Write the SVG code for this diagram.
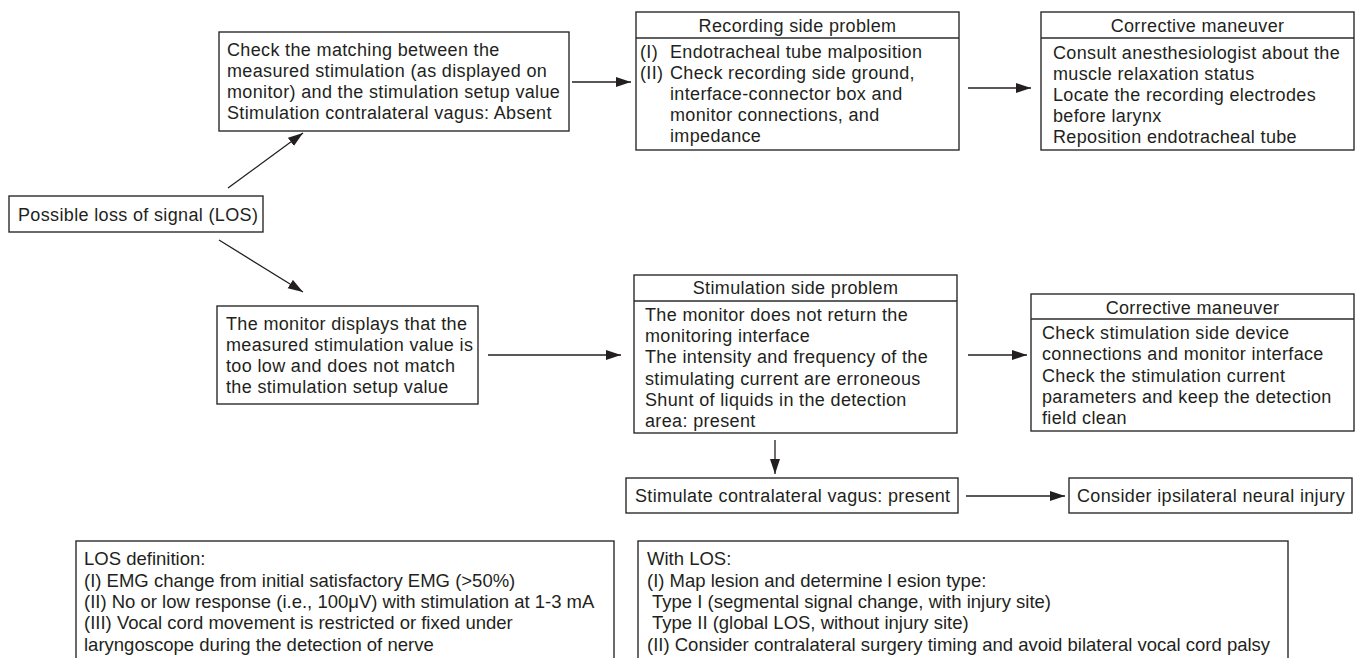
<svg xmlns="http://www.w3.org/2000/svg" width="1357" height="658" viewBox="0 0 1357 658">
<style>
.box{fill:#fff;stroke:#2b2b2b;stroke-width:1.4}
.div{stroke:#2b2b2b;stroke-width:1.4}
.t{font-family:"Liberation Sans",Arial,sans-serif;font-size:18px;letter-spacing:0.35px;fill:#231f20}
.h{text-anchor:middle}
.b{font-family:"Liberation Sans",Arial,sans-serif;font-size:18.5px;fill:#231f20}
.c{stroke:#231f20;stroke-width:1.3;fill:none;marker-end:url(#ah)}
</style>
<defs>
<marker id="ah" markerUnits="userSpaceOnUse" markerWidth="16" markerHeight="11" refX="15" refY="5" orient="auto">
<path d="M0,0 L15,5 L0,10 z" fill="#231f20"/>
</marker>
</defs>
<rect width="1357" height="658" fill="#fff"/>
<g id="connectors">
<line class="c" x1="228" y1="188" x2="303" y2="133"/>
<line class="c" x1="219" y1="240" x2="303" y2="292"/>
<line class="c" x1="572" y1="82" x2="631" y2="82"/>
<line class="c" x1="968" y1="88" x2="1031" y2="88"/>
<line class="c" x1="488" y1="355" x2="621" y2="355"/>
<line class="c" x1="968" y1="355" x2="1027" y2="355"/>
<line class="c" x1="775" y1="440" x2="775" y2="474"/>
<line class="c" x1="966" y1="496" x2="1065" y2="496"/>
</g>
<g id="los">
<rect class="box" x="9" y="196" width="254" height="36"/>
<text class="t" x="18" y="221">Possible loss of signal (LOS)</text>
</g>
<g id="check">
<rect class="box" x="219" y="32" width="350" height="99"/>
<text class="t" x="227" y="56">Check the matching between the</text>
<text class="t" x="227" y="77">measured stimulation (as displayed on</text>
<text class="t" x="227" y="98">monitor) and the stimulation setup value</text>
<text class="t" x="227" y="119">Stimulation contralateral vagus: Absent</text>
</g>
<g id="monitor">
<rect class="box" x="217" y="306" width="261" height="98"/>
<text class="t" x="226" y="330">The monitor displays that the</text>
<text class="t" x="226" y="351">measured stimulation value is</text>
<text class="t" x="226" y="372">too low and does not match</text>
<text class="t" x="226" y="393">the stimulation setup value</text>
</g>
<g id="recording">
<rect class="box" x="636" y="12" width="323" height="138"/>
<line class="div" x1="636" y1="38" x2="959" y2="38"/>
<text class="t h" x="797.5" y="32">Recording side problem</text>
<text class="t" x="640" y="58">(I)</text>
<text class="t" x="670" y="58">Endotracheal tube malposition</text>
<text class="t" x="640" y="79">(II)</text>
<text class="t" x="670" y="79">Check recording side ground,</text>
<text class="t" x="670" y="100">interface-connector box and</text>
<text class="t" x="670" y="121">monitor connections, and</text>
<text class="t" x="670" y="142">impedance</text>
</g>
<g id="corrective1">
<rect class="box" x="1041" y="12" width="313" height="138"/>
<line class="div" x1="1041" y1="38" x2="1354" y2="38"/>
<text class="t h" x="1197.5" y="32">Corrective maneuver</text>
<text class="t" x="1053" y="59">Consult anesthesiologist about the</text>
<text class="t" x="1053" y="80">muscle relaxation status</text>
<text class="t" x="1053" y="101">Locate the recording electrodes</text>
<text class="t" x="1053" y="122">before larynx</text>
<text class="t" x="1053" y="143">Reposition endotracheal tube</text>
</g>
<g id="stimside">
<rect class="box" x="634" y="275" width="323" height="158"/>
<line class="div" x1="634" y1="301" x2="957" y2="301"/>
<text class="t h" x="795.5" y="294">Stimulation side problem</text>
<text class="t" x="645" y="321">The monitor does not return the</text>
<text class="t" x="645" y="342">monitoring interface</text>
<text class="t" x="645" y="363">The intensity and frequency of the</text>
<text class="t" x="645" y="385">stimulating current are erroneous</text>
<text class="t" x="645" y="406">Shunt of liquids in the detection</text>
<text class="t" x="645" y="427">area: present</text>
</g>
<g id="corrective2">
<rect class="box" x="1031" y="294" width="323" height="137"/>
<line class="div" x1="1031" y1="319" x2="1354" y2="319"/>
<text class="t h" x="1192.5" y="314">Corrective maneuver</text>
<text class="t" x="1042" y="339">Check stimulation side device</text>
<text class="t" x="1042" y="360">connections and monitor interface</text>
<text class="t" x="1042" y="382">Check the stimulation current</text>
<text class="t" x="1042" y="403">parameters and keep the detection</text>
<text class="t" x="1042" y="424">field clean</text>
</g>
<g id="contra">
<rect class="box" x="626" y="478" width="332" height="35"/>
<text class="t" x="635" y="502">Stimulate contralateral vagus: present</text>
</g>
<g id="ipsi">
<rect class="box" x="1069" y="478" width="283" height="35"/>
<text class="t" x="1077" y="502">Consider ipsilateral neural injury</text>
</g>
<g id="losdef">
<rect class="box" x="76" y="541" width="538" height="130"/>
<text class="b" x="84" y="565">LOS definition:</text>
<text class="b" x="84" y="587">(I) EMG change from initial satisfactory EMG (&gt;50%)</text>
<text class="b" x="84" y="608">(II) No or low response (i.e., 100μV) with stimulation at 1-3 mA</text>
<text class="b" x="84" y="629">(III) Vocal cord movement is restricted or fixed under</text>
<text class="b" x="84" y="651">laryngoscope during the detection of nerve</text>
</g>
<g id="withlos">
<rect class="box" x="638" y="541" width="650" height="130"/>
<text class="b" x="647" y="565">With LOS:</text>
<text class="b" x="647" y="587">(I) Map lesion and determine l esion type:</text>
<text class="b" x="652" y="608">Type I (segmental signal change, with injury site)</text>
<text class="b" x="652" y="629">Type II (global LOS, without injury site)</text>
<text class="b" x="647" y="651">(II) Consider contralateral surgery timing and avoid bilateral vocal cord palsy</text>
</g>
</svg>
